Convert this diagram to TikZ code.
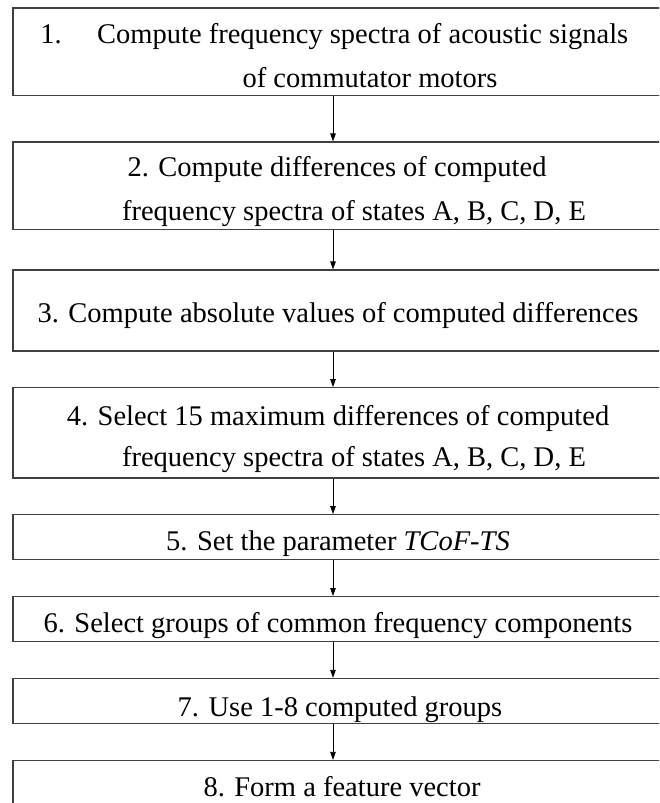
\documentclass[tikz,border=0pt]{standalone}
\usepackage{fontspec}
\setmainfont{Liberation Serif}
\usetikzlibrary{arrows.meta}

\begin{document}
\begin{tikzpicture}[>={Triangle[length=8pt,width=5.5pt]}, x=1pt, y=-1pt,
  stepbox/.style={draw=black!75, line width=1.3pt, minimum width=654pt, inner sep=0pt},
  steptext/.style={inner sep=0pt, anchor=base, font=\fontsize{28.5}{34}\selectfont}]
  \useasboundingbox (0,0) rectangle (659,803);
  \clip (0,0) rectangle (659,803);
  % step boxes, top to bottom (the last one runs off the page)
  \foreach \name/\yc/\h in {b1/51.9/87.8, b2/185.7/87.4, b3/310.5/81, b4/432.9/90.3,
                            b5/537.2/45, b6/619.2/45, b7/701/45, b8/805.3/89.5}
    \node[stepbox, minimum height=\h pt] (\name) at (340,\yc) {};

  \node[steptext] (t1a) at (51,43) {1.};
  \node[steptext, anchor=base west] (t1b) at (97,43) {Compute frequency spectra of acoustic signals};
  \node[steptext] (t1c) at (370,87) {of commutator motors};
  \node[steptext] (t2a) at (337,176) {2. Compute differences of computed};
  \node[steptext] (t2b) at (354,220) {frequency spectra of states A, B, C, D, E};
  \node[steptext] (t3) at (338,322) {3. Compute absolute values of computed differences};
  \node[steptext] (t4a) at (338,425) {4. Select 15 maximum differences of computed};
  \node[steptext] (t4b) at (354,466) {frequency spectra of states A, B, C, D, E};
  \node[steptext] (t5) at (338,550) {5. Set the parameter \textit{TCoF-TS}};
  \node[steptext] (t6) at (338,632) {6. Select groups of common frequency components};
  \node[steptext] (t7) at (340,716) {7. Use 1-8 computed groups};
  \node[steptext] (t8) at (342,796) {8. Form a feature vector};

  % arrows between steps
  \coordinate (ax) at (333,0);
  \foreach \a/\b in {b1/b2, b2/b3, b3/b4, b4/b5, b5/b6, b6/b7, b7/b8}
    \draw[->, line width=0.8pt] (\a.south -| ax) -- (\b.north -| ax);
\end{tikzpicture}
\end{document}
